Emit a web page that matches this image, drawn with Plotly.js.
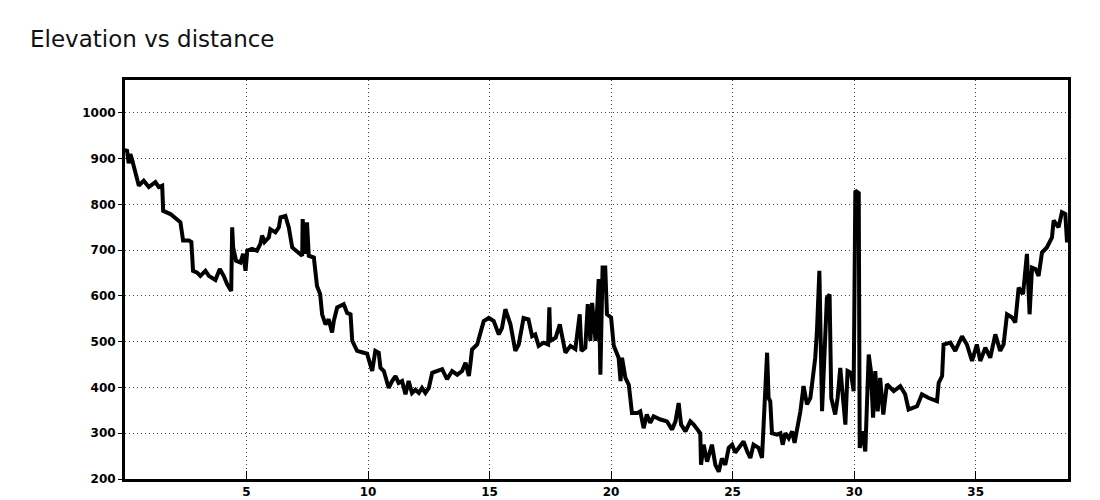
<!DOCTYPE html>
<html>
<head>
<meta charset="utf-8">
<script src="https://cdn.plot.ly/plotly-3.0.1.min.js"></script>
<style>html,body{margin:0;padding:0;background:#fff}#chart{width:1100px;height:500px}</style>
</head>
<body>
<div id="chart"></div>
<script>
const distance = [0.0,0.08,0.15,0.22,0.3,0.43,0.57,0.77,0.98,1.25,1.39,1.53,1.57,1.87,2.28,2.39,2.63,2.73,2.8,2.97,3.1,3.31,3.45,3.72,3.9,4.06,4.2,4.37,4.41,4.45,4.57,4.75,4.86,4.96,5.03,5.23,5.43,5.57,5.64,5.74,5.92,5.98,6.19,6.33,6.4,6.6,6.74,6.88,7.15,7.29,7.31,7.41,7.49,7.56,7.77,7.9,8.03,8.11,8.25,8.38,8.52,8.59,8.73,9.0,9.14,9.28,9.35,9.55,9.82,9.96,10.17,10.3,10.44,10.51,10.65,10.85,10.99,11.13,11.26,11.4,11.54,11.67,11.81,11.95,12.09,12.22,12.36,12.5,12.64,12.84,13.05,13.25,13.46,13.67,13.87,14.01,14.15,14.21,14.28,14.49,14.62,14.76,14.97,15.17,15.38,15.51,15.65,15.86,16.06,16.2,16.4,16.6,16.75,16.88,17.02,17.23,17.41,17.46,17.5,17.72,17.89,18.0,18.12,18.33,18.53,18.71,18.78,18.94,19.04,19.15,19.22,19.36,19.42,19.49,19.56,19.65,19.76,19.83,20.0,20.11,20.31,20.39,20.45,20.59,20.73,20.86,21.07,21.2,21.34,21.47,21.61,21.75,22.03,22.3,22.51,22.65,22.78,22.88,23.06,23.26,23.4,23.53,23.67,23.7,23.81,23.95,24.15,24.29,24.43,24.56,24.7,24.84,24.98,25.11,25.25,25.45,25.6,25.73,25.86,26.07,26.21,26.28,26.42,26.48,26.55,26.62,26.83,26.97,27.06,27.17,27.31,27.45,27.55,27.65,27.79,27.92,28.06,28.2,28.34,28.4,28.47,28.57,28.68,28.78,28.88,28.99,29.06,29.22,29.32,29.43,29.54,29.64,29.73,29.87,29.98,30.05,30.19,30.23,30.33,30.46,30.6,30.69,30.78,30.87,30.97,31.07,31.2,31.35,31.63,31.9,32.1,32.24,32.59,32.79,33.07,33.41,33.48,33.62,33.68,33.96,34.16,34.44,34.64,34.85,35.05,35.19,35.4,35.6,35.81,36.01,36.15,36.29,36.5,36.63,36.77,36.95,37.11,37.22,37.32,37.46,37.59,37.73,37.93,38.14,38.21,38.41,38.55,38.69,38.76];
const elevation = [915,920,890,910,896,868,841,852,838,849,838,841,786,779,761,721,721,718,655,651,644,655,644,635,659,644,626,611,750,706,677,673,692,655,699,703,699,714,732,718,728,746,739,750,772,775,750,706,695,688,768,692,761,688,684,622,604,560,538,549,520,545,575,582,563,560,502,480,476,474,436,480,476,443,436,399,414,425,410,414,385,414,388,395,388,399,388,399,432,436,440,418,436,428,436,454,425,451,483,494,516,545,552,545,516,530,571,538,480,494,552,549,512,516,491,498,494,575,502,509,538,502,476,491,484,560,480,487,582,502,585,502,575,637,428,662,662,560,553,491,465,414,465,421,406,344,344,348,311,341,323,337,330,326,308,326,366,319,304,326,319,311,300,231,275,238,275,231,216,245,231,268,275,258,268,282,260,246,275,268,246,311,476,377,370,300,297,300,275,300,289,304,279,308,348,403,363,377,443,465,523,655,348,487,596,603,377,341,377,443,370,319,436,432,392,830,825,268,304,260,472,436,334,436,348,421,341,407,392,403,385,352,359,385,377,370,410,425,494,498,480,512,494,458,494,458,487,465,516,480,494,560,553,542,618,604,692,560,662,659,644,695,706,728,765,750,783,779,717];
const xTicks = [5,10,15,20,25,30,35];
const yTicks = [200,300,400,500,600,700,800,900,1000];

const trace = {
  x: distance, y: elevation, type: 'scatter', mode: 'lines',
  line: {color: '#000000', width: 4}, hoverinfo: 'skip'
};
const axisFont = {family: 'DejaVu Sans', size: 12, color: '#000', weight: 'bold'};
const layout = {
  width: 1100, height: 500,
  paper_bgcolor: '#fff', plot_bgcolor: '#fff',
  margin: {l: 125, r: 32, t: 80, b: 21, pad: 0},
  showlegend: false,
  title: {text: 'Elevation vs distance', x: 30/1100, xanchor: 'left', xref: 'container',
          y: 1 - 39/500, yanchor: 'middle', yref: 'container',
          font: {family: 'DejaVu Sans', size: 23, color: '#111'}},
  xaxis: {range: [0, 38.8], tickvals: xTicks, ticktext: xTicks.map(String),
          showline: true, linecolor: '#000', linewidth: 3, mirror: true,
          ticks: 'inside', ticklen: 8, tickcolor: '#000', tickwidth: 1,
          showgrid: true, gridcolor: '#444', gridwidth: 1, griddash: '1px,3px',
          zeroline: false, tickfont: axisFont},
  yaxis: {range: [200, 1072], tickvals: yTicks, ticktext: yTicks.map(String),
          showline: true, linecolor: '#000', linewidth: 3, mirror: true,
          ticks: 'outside', ticklen: 4, tickcolor: '#000', tickwidth: 1,
          showgrid: true, gridcolor: '#444', gridwidth: 1, griddash: '1px,3px',
          zeroline: false, tickfont: axisFont}
};
Plotly.newPlot('chart', [trace], layout, {displayModeBar: false, staticPlot: true});
</script>
</body>
</html>
